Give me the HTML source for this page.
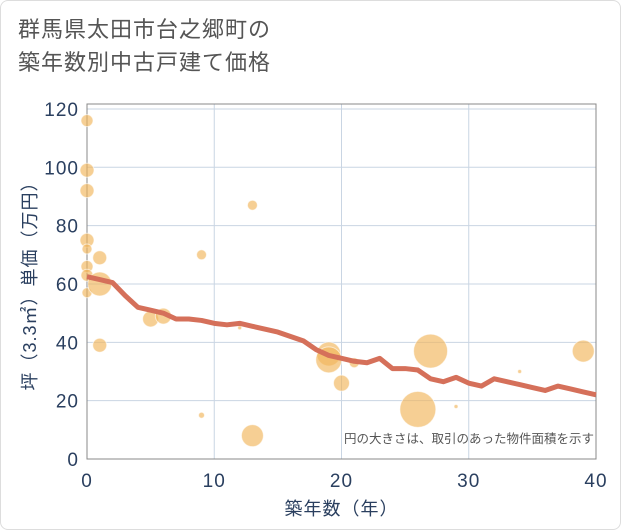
<!DOCTYPE html>
<html><head><meta charset="utf-8"><style>
body{margin:0;background:#fff;font-family:"Liberation Sans","Noto Sans CJK JP",sans-serif;}
#card{position:absolute;left:0;top:0;width:619px;height:528px;border:1px solid #ddd;border-radius:8px;}
#title{position:absolute;left:18px;top:13px;font-size:22px;line-height:33px;color:#555;letter-spacing:1px;}
</style></head><body>
<div id="card"></div>
<div id="title">群馬県太田市台之郷町の<br>築年数別中古戸建て価格</div>
<svg id="chart" width="621" height="530" style="position:absolute;left:0;top:0"></svg>
<script>
const xTicks=[0,10,20,30,40];
const yTicks=[0,20,40,60,80,100,120];
const lineX=[0,1,2,3,4,5,6,7,8,9,10,11,12,13,14,15,16,17,18,19,20,21,22,23,24,25,26,27,28,29,30,31,32,33,34,35,36,37,38,39,40];
const lineY=[62.5,61.5,60.5,56,52,51,50,48,48,47.5,46.5,46,46.5,45.5,44.5,43.5,42,40.5,37.5,35.5,34.5,33.5,33,34.5,31,31,30.5,27.5,26.5,28,26,25,27.5,26.5,25.5,24.5,23.5,25,24,23,22];
const bubX=[0,0,0,0,0,0,0,0,1,1,1,5,6,9,9,12,13,13,19,19,20,21,26,27,29,34,39];
const bubY=[116,99,92,75,72,66,63,57,69,60,39,48,49,70,15,45,87,8,36,34,26,33,17,37,18,30,37];
const bubR=[6,7,7,7,5,6,6,5,7,12,7,8,8,5,3,2,5,11,12,13,8,5,18,17,2,2,11];
const L=87,R=596,T=104,B=459;
const sx=v=>L+v*(R-L)/40, sy=v=>B-v*(B-T)/121.7;
const svg=document.getElementById('chart');const NS='http://www.w3.org/2000/svg';
function mk(t,a,p){const e=document.createElementNS(NS,t);for(const k in a)e.setAttribute(k,a[k]);(p||svg).appendChild(e);return e;}
yTicks.forEach(v=>{
 const g=mk('line',{x1:L,x2:R,y1:sy(v),y2:sy(v),stroke:'#c9d5e3','stroke-width':1});
 
 
 const t=mk('text',{x:L-8,y:sy(v)+7,'text-anchor':'end','font-size':19,fill:'#2a3f5f','letter-spacing':1});t.textContent=v;
 
 
});
xTicks.forEach(v=>{
 const g=mk('line',{x1:sx(v),x2:sx(v),y1:T,y2:B,stroke:'#c9d5e3','stroke-width':1});
 
 
 const t=mk('text',{x:sx(v),y:B+28,'text-anchor':'middle','font-size':19,fill:'#2a3f5f','letter-spacing':1});t.textContent=v;
 
 
});
const fr=mk('rect',{x:L,y:T,width:R-L,height:B-T,fill:'none',stroke:'#888','stroke-width':1});


bubX.forEach((x,i)=>{
 const c=mk('circle',{cx:sx(x),cy:sy(bubY[i]),r:bubR[i],fill:'rgba(241,182,90,0.65)',stroke:'rgba(255,255,255,0.6)','stroke-width':1});
 
 
});
const pl=mk('polyline',{points:lineX.map((x,i)=>sx(x)+','+sy(lineY[i])).join(' '),fill:'none',stroke:'#d5705a','stroke-width':5,'stroke-linejoin':'round'});


const lg=mk('text',{x:594,y:443,'text-anchor':'end','font-size':12.5,fill:'#555'});lg.textContent='円の大きさは、取引のあった物件面積を示す';


const xt=mk('text',{x:(L+R)/2,y:515,'text-anchor':'middle','font-size':18,fill:'#2a3f5f','letter-spacing':1});xt.textContent='築年数（年）';


const yt=mk('text',{x:0,y:0,'text-anchor':'middle','font-size':18,fill:'#2a3f5f','letter-spacing':1,transform:'translate(36,'+((T+B)/2)+') rotate(-90)'});yt.textContent='坪（3.3㎡）単価（万円）';


</script>
</body></html>
